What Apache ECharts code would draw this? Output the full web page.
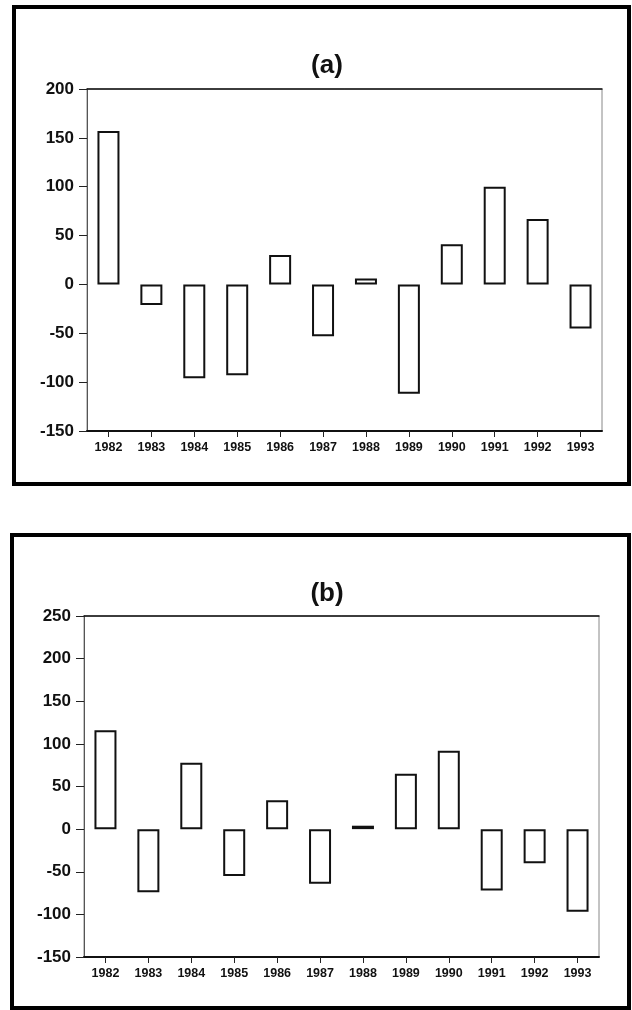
<!DOCTYPE html>
<html>
<head>
	<meta charset="utf-8">
	<title>(a) / (b)</title>
	<script src="https://cdn.jsdelivr.net/npm/echarts@6/dist/echarts.min.js"></script>
	<style>
		body { margin: 0; background: #fff; }
	</style>
</head>
<body>
	<div id="main" style="width: 632px;height: 1010px"></div>
	<script type="text/javascript">
		// categories and values
		var years = ['1982', '1983', '1984', '1985', '1986', '1987', '1988', '1989', '1990', '1991', '1992', '1993'];
		var valuesA = [157, -21, -96, -93, 30, -53, 6, -112, 41, 100, 67, -45];
		var valuesB = [116, -74, 78, -55, 34, -64, 4, 65, 92, -72, -40, -97];
		var rangeA = [-150, 200];
		var rangeB = [-150, 250];
		var step = 50;

		var font = '"Liberation Sans", Arial, sans-serif';
		var myChart = echarts.init(document.getElementById('main'), null, {renderer: 'canvas'});

		function xAxisFor(idx) {
			return [{
				type: 'category',
				gridIndex: idx,
				data: years,
				position: 'bottom',
				axisLine: {onZero: false, lineStyle: {color: '#111', width: 2}},
				axisTick: {show: true, alignWithLabel: true, length: 6, lineStyle: {color: '#222', width: 1}},
				axisLabel: {color: '#111', fontFamily: font, fontWeight: 'bold', fontSize: 12.5, margin: 10}
			}, {
				// top edge of the plot box
				type: 'category',
				gridIndex: idx,
				data: years,
				position: 'top',
				axisLine: {onZero: false, lineStyle: {color: '#111', width: 1.5}},
				axisTick: {show: false},
				axisLabel: {show: false}
			}];
		}

		function yAxisFor(idx, range) {
			return {
				type: 'value',
				gridIndex: idx,
				min: range[0],
				max: range[1],
				interval: step,
				splitLine: {show: false},
				axisLine: {show: true, onZero: false, lineStyle: {color: '#555', width: 1}},
				axisTick: {show: true, length: 8, lineStyle: {color: '#222', width: 1}},
				axisLabel: {color: '#111', fontFamily: font, fontWeight: 'bold', fontSize: 17, margin: 13}
			};
		}

		function barSeries(idx, values) {
			return {
				type: 'bar',
				xAxisIndex: idx * 2,
				yAxisIndex: idx,
				data: values,
				barWidth: 22,
				itemStyle: {color: '#fff', borderColor: '#111', borderWidth: 2},
				silent: true
			};
		}

		var option = {
			backgroundColor: '#fff',
			animation: false,
			title: [
				{text: '(a)', left: 322, top: 61, textAlign: 'center', textVerticalAlign: 'middle',
					textStyle: {fontFamily: font, fontWeight: 'bold', fontSize: 26, color: '#111'}},
				{text: '(b)', left: 322, top: 589, textAlign: 'center', textVerticalAlign: 'middle',
					textStyle: {fontFamily: font, fontWeight: 'bold', fontSize: 26, color: '#111'}}
			],
			grid: [
				{left: 87, top: 89, width: 515, height: 342, show: true, borderColor: '#888', borderWidth: 1},
				{left: 84, top: 616, width: 515, height: 341, show: true, borderColor: '#888', borderWidth: 1}
			],
			xAxis: xAxisFor(0).concat(xAxisFor(1)),
			yAxis: [yAxisFor(0, rangeA), yAxisFor(1, rangeB)],
			series: [barSeries(0, valuesA), barSeries(1, valuesB)],
			graphic: [
				// outer frames of the two panels
				{type: 'rect', shape: {x: 14, y: 7, width: 615, height: 477},
					style: {fill: null, stroke: '#000', lineWidth: 4}, silent: true},
				{type: 'rect', shape: {x: 12, y: 535, width: 617, height: 473},
					style: {fill: null, stroke: '#000', lineWidth: 4}, silent: true}
			]
		};
		myChart.setOption(option);
	</script>
</body>
</html>
